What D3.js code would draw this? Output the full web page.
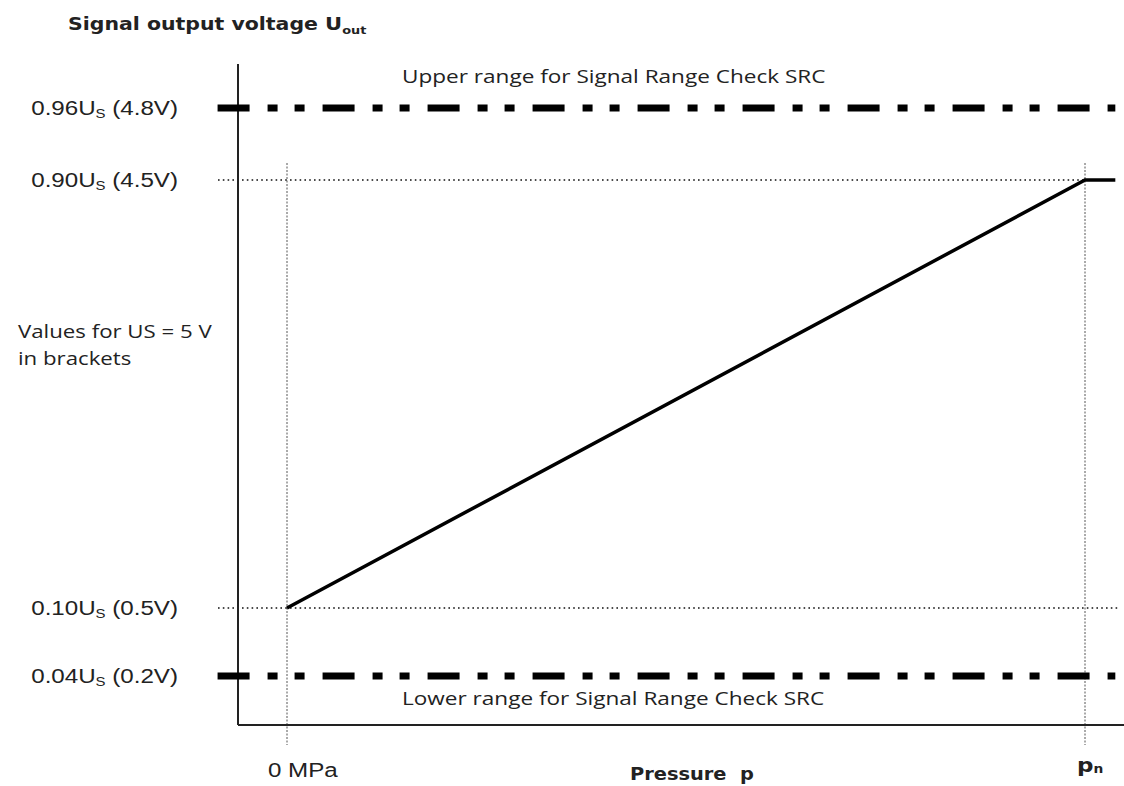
<!DOCTYPE html>
<html>
<head>
<meta charset="utf-8">
<script src="https://cdn.jsdelivr.net/npm/d3@7"></script>
<style>
  body { margin: 0; background: #fff; }
  svg { display: block; }
</style>
</head>
<body>
<div id="chart"></div>
<script>
// y levels (fraction of supply voltage Us) and their labels
const levels = [0.04, 0.10, 0.90, 0.96];
const levelMain = ["0.04U", "0.10U", "0.90U", "0.96U"];
const levelVolts = [" (0.2V)", " (0.5V)", " (4.5V)", " (4.8V)"];

// pressure axis: 0 MPa .. pn
const pressureTicks = [0, 1];

// characteristic curve (pressure as fraction of pn, output as fraction of Us)
const curveP = [0, 1, 1.038];
const curveU = [0.10, 0.90, 0.90];

// SRC limit lines
const srcLevels = [0.96, 0.04];
const srcText = ["Upper range for Signal Range Check SRC", "Lower range for Signal Range Check SRC"];
const srcSpan = [-0.087, 1.038];

const width = 1124, height = 786;

const svg = d3.select("#chart").append("svg")
  .attr("width", width)
  .attr("height", height);

// piecewise scale, the drawing isn't to scale between the bands
const y = d3.scaleLinear()
  .domain(levels)
  .range([676, 608, 180, 108]);

const x = d3.scaleLinear()
  .domain([0, 1])
  .range([287, 1085]);

const axisX = 238, axisTop = 64, axisBottom = 725;

// thin vertical dotted guides at 0 MPa and pn
svg.selectAll(".vguide")
  .data(pressureTicks)
  .enter()
  .append("line")
  .attr("class", "vguide")
  .attr("x1", d => x(d)).attr("x2", d => x(d))
  .attr("y1", 163).attr("y2", 745)
  .attr("stroke", "#555")
  .attr("stroke-width", 1)
  .attr("stroke-dasharray", "2,1.5");

// dotted horizontal guides at 0.10 and 0.90
svg.selectAll(".hguide")
  .data([0.10, 0.90])
  .enter()
  .append("line")
  .attr("class", "hguide")
  .attr("x1", 218)
  .attr("x2", d => d == 0.90 ? x(1) : 1120)
  .attr("y1", d => y(d)).attr("y2", d => y(d))
  .attr("stroke", "#111")
  .attr("stroke-width", 1.6)
  .attr("stroke-dasharray", "1.6,3.2");

// axes (plain lines, no ticks)
svg.append("line")
  .attr("x1", axisX).attr("x2", axisX)
  .attr("y1", axisTop).attr("y2", axisBottom)
  .attr("stroke", "#222").attr("stroke-width", 2);
svg.append("line")
  .attr("x1", axisX).attr("x2", width)
  .attr("y1", axisBottom).attr("y2", axisBottom)
  .attr("stroke", "#222").attr("stroke-width", 2);

// SRC dash-dot-dot lines
svg.selectAll(".src")
  .data(srcLevels)
  .enter()
  .append("line")
  .attr("class", "src")
  .attr("x1", x(srcSpan[0]))
  .attr("x2", x(srcSpan[1]))
  .attr("y1", d => y(d)).attr("y2", d => y(d))
  .attr("stroke", "#000")
  .attr("stroke-width", 7)
  .attr("stroke-dasharray", "32,18,10,17,10,18");

// the characteristic line
const line = d3.line()
  .x((d, i) => x(curveP[i]))
  .y(d => y(d));

svg.append("path")
  .datum(curveU)
  .attr("d", line)
  .attr("fill", "none")
  .attr("stroke", "#000")
  .attr("stroke-width", 3.5);

// stretched text helper (source picture is wider than tall)
function label(px, py, anchor, family, size, weight, parts, stretch) {
  const t = svg.append("text")
    .attr("transform", `translate(${px},${py}) scale(${stretch || 1.15},1)`)
    .attr("text-anchor", anchor)
    .attr("font-family", family)
    .attr("font-size", size)
    .attr("font-weight", weight)
    .attr("fill", "#222")
    .style("white-space", "pre");
  parts.forEach(p => {
    t.append("tspan")
      .attr("font-size", p.size || size)
      .attr("dy", p.dy || 0)
      .text(p.t);
  });
  return t;
}

// y labels
levels.forEach((lv, i) => {
  label(178, y(lv) + 7, "end", "Liberation Sans, Arial, sans-serif", 21, "normal", [
    { t: levelMain[i] },
    { t: "S", size: 13, dy: 3 },
    { t: levelVolts[i], dy: -3 }
  ]);
});

// title
label(68, 30, "start", "DejaVu Sans, Verdana, sans-serif", 17.5, "bold", [
  { t: "Signal output voltage " },
  { t: "U", size: 18 },
  { t: "out", size: 11, dy: 4 }
], 1.17);

// SRC texts
srcText.forEach((s, i) => {
  label(402, i == 0 ? 83 : 705, "start", "Open Sans, sans-serif", 18.5, "normal", [{ t: s }], 1.22);
});

// note
label(18, 338, "start", "Open Sans, sans-serif", 17.5, "normal", [{ t: "Values for US = 5 V" }], 1.27);
label(18, 365, "start", "Open Sans, sans-serif", 17.5, "normal", [{ t: "in brackets" }], 1.27);

// x labels
label(268, 777, "start", "Liberation Sans, Arial, sans-serif", 21, "normal", [{ t: "0 MPa" }]);
label(630, 780, "start", "DejaVu Sans, Verdana, sans-serif", 17, "bold", [{ t: "Pressure  p" }], 1.14);
label(1077, 772, "start", "DejaVu Sans, Verdana, sans-serif", 20, "bold", [
  { t: "p" },
  { t: "n", size: 12, dy: 1 }
]);
</script>
</body>
</html>
